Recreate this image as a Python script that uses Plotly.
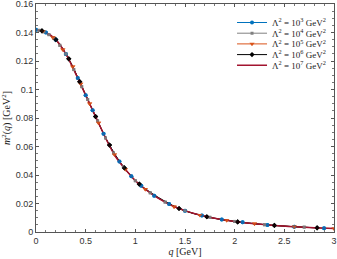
import plotly.graph_objects as go

# Lambda^2 = 10^3 GeV^2 (blue circles)
q_1e3 = [0.0, 0.1, 0.2, 0.3, 0.42, 0.5, 0.57, 0.68, 0.84, 0.96, 1.06, 1.19, 1.34, 1.5, 1.67, 1.87, 2.08, 2.33, 2.6, 2.9]
m2_1e3 = [0.142, 0.140, 0.135, 0.125, 0.108, 0.096, 0.0855, 0.069, 0.0494, 0.0392, 0.0324, 0.0255, 0.0196, 0.0150,
          0.0115, 0.0088, 0.0068, 0.0050, 0.0037, 0.0027]

# Lambda^2 = 10^4 GeV^2 (gray squares)
q_1e4 = [0.03, 0.08, 0.13, 0.18, 0.24, 0.3, 0.38, 0.46, 0.52, 0.62, 0.7, 0.78, 0.88, 1.0, 1.15, 1.3, 1.5, 1.75, 2.0,
         2.3, 2.7]
m2_1e4 = [0.1415, 0.1405, 0.1385, 0.136, 0.131, 0.125, 0.114, 0.102, 0.093, 0.078, 0.066, 0.0555, 0.0458, 0.036,
          0.0275, 0.021, 0.0150, 0.0103, 0.0074, 0.0051, 0.0034]

# Lambda^2 = 10^5 GeV^2 (orange triangles)
q_1e5 = [0.07, 0.17, 0.27, 0.37, 0.45, 0.54, 0.63, 0.79, 0.9, 1.1, 1.39, 1.65, 1.92, 2.2, 2.6, 3.0]
m2_1e5 = [0.141, 0.1365, 0.128, 0.116, 0.104, 0.090, 0.0765, 0.0543, 0.044, 0.030, 0.0178, 0.0119, 0.0082, 0.0058,
          0.0037, 0.0024]

# Lambda^2 = 10^6 GeV^2 (black diamonds)
q_1e6 = [0.06, 0.2, 0.33, 0.44, 0.6, 0.74, 0.89, 1.04, 1.44, 1.72, 2.03, 2.4, 2.83]
m2_1e6 = [0.1412, 0.135, 0.1215, 0.1055, 0.081, 0.061, 0.045, 0.0336, 0.0165, 0.0107, 0.0071, 0.0046, 0.0029]

# Lambda^2 = 10^7 GeV^2 (red line)
q_1e7 = [0.0, 0.1, 0.2, 0.3, 0.4, 0.5, 0.6, 0.7, 0.8, 0.9, 1.0, 1.1, 1.2, 1.3, 1.4, 1.5, 1.6, 1.7, 1.8, 1.9, 2.0,
         2.2, 2.4, 2.6, 2.8, 3.0]
m2_1e7 = [0.142, 0.140, 0.135, 0.125, 0.111, 0.096, 0.081, 0.066, 0.053, 0.044, 0.036, 0.030, 0.025, 0.021, 0.0175,
          0.0150, 0.0128, 0.0110, 0.0096, 0.0084, 0.0074, 0.0058, 0.0046, 0.0037, 0.0030, 0.0024]

y_ticks = [0, 0.02, 0.04, 0.06, 0.08, 0.1, 0.12, 0.14, 0.16]
y_ticktext = ["0", "0.02", "0.04", "0.06", "0.08", "0.1", "0.12", "0.14", "0.16"]
x_ticks = [0, 0.5, 1, 1.5, 2, 2.5, 3]
x_ticktext = ["0", "0.5", "1", "1.5", "2", "2.5", "3"]

serif = "Liberation Serif"
sans = "Liberation Sans"

series = [
    (q_1e3, m2_1e3, "3", "rgb(0,114,189)", "circle", 4, 1),
    (q_1e4, m2_1e4, "4", "rgb(128,128,128)", "square", 3, 1),
    (q_1e5, m2_1e5, "5", "rgb(217,83,25)", "triangle-down", 4.5, 1),
    (q_1e6, m2_1e6, "6", "rgb(0,0,0)", "diamond", 4, 1),
]

fig = go.Figure()
legend_names = ["legend", "legend2", "legend3", "legend4", "legend5"]
for i, (q, m2, ex, color, sym, size, width) in enumerate(series):
    fig.add_trace(go.Scatter(x=q, y=m2, mode="lines+markers", line=dict(color=color, width=width, shape="spline"),
                             marker=dict(symbol=sym, size=size, color=color), legend=legend_names[i],
                             name=f"Λ<sup>2</sup> = 10<sup>{ex}</sup> GeV<sup>2</sup>"))
fig.add_trace(go.Scatter(x=q_1e7, y=m2_1e7, mode="lines", line=dict(color="rgb(162,20,47)", width=1.5, shape="spline"),
                         legend="legend5", name="Λ<sup>2</sup> = 10<sup>7</sup> GeV<sup>2</sup>"))
# markers again on top of the red curve
for q, m2, ex, color, sym, size, width in series:
    fig.add_trace(go.Scatter(x=q, y=m2, mode="markers", marker=dict(symbol=sym, size=size, color=color, opacity=0.85),
                             showlegend=False, hoverinfo="skip"))

axis_common = dict(showgrid=False, zeroline=False, showline=True, mirror="ticks", linecolor="#555", linewidth=1,
                   ticks="inside", ticklen=3, tickcolor="#555", tickfont=dict(family=sans, size=9, color="#333"),
                   automargin=False, ticklabeloverflow="allow")

# one single-entry legend per series so the rows can sit closer than plotly's default spacing
plot_h = 259 - 4 - 27
legends = {}
for i, name in enumerate(legend_names):
    legends[name] = dict(x=0.99, y=1 - (4 + 10.7 * i) / plot_h, xanchor="right", yanchor="top",
                         bgcolor="rgba(0,0,0,0)", borderwidth=0, itemwidth=30,
                         font=dict(family=serif, size=9, color="#222"))

fig.update_layout(
    width=337, height=259,
    margin=dict(l=36, r=3, t=4, b=27),
    plot_bgcolor="white", paper_bgcolor="white",
    showlegend=True,
    xaxis=dict(range=[0, 3], tickvals=x_ticks, ticktext=x_ticktext,
               title=dict(text="<i>q</i> [GeV]", font=dict(family=serif, size=10, color="#222"), standoff=1),
               minor=dict(ticks="inside", ticklen=2, tickcolor="#777", dtick=0.1, tick0=0),
               **axis_common),
    yaxis=dict(range=[0, 0.16], tickvals=y_ticks, ticktext=y_ticktext,
               title=dict(text="<i>m</i><sup>2</sup>(<i>q</i>) [GeV<sup>2</sup>]",
                          font=dict(family=serif, size=10, color="#222"), standoff=4),
               minor=dict(ticks="inside", ticklen=2, tickcolor="#777", dtick=0.005, tick0=0),
               **axis_common),
    **legends,
)

fig.write_html("out.html", config={"displayModeBar": False}, post_script="document.body.style.margin='0';")
